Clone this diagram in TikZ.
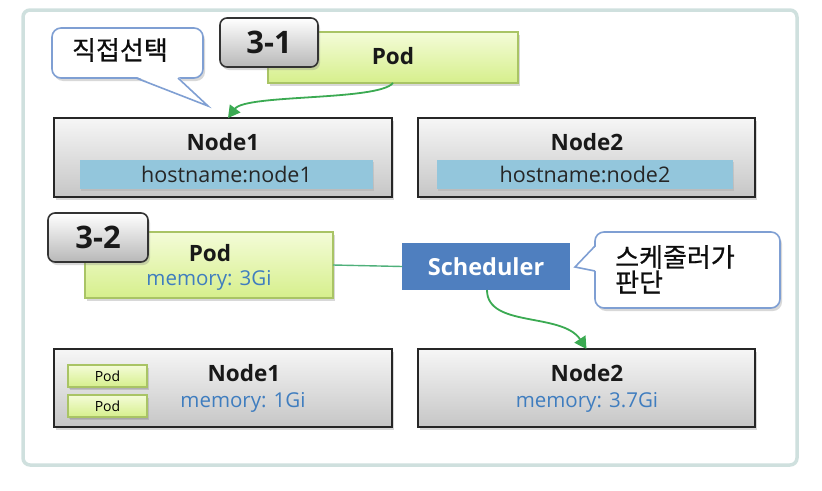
\documentclass[tikz,border=0pt]{standalone}
\usepackage{fontspec}
\setmainfont{Open Sans}
\newfontfamily\kr[FakeBold=0.6]{Noto Sans CJK KR}
\usetikzlibrary{arrows.meta,shadows,calc}
\definecolor{framec}{HTML}{CFE0DE}
\definecolor{calloutc}{HTML}{7F9FD3}
\definecolor{greenarr}{HTML}{3BAA52}
\definecolor{tealline}{HTML}{4FB07A}
\definecolor{barc}{HTML}{93C6DC}
\definecolor{memc}{HTML}{3F7DBF}
\definecolor{schedc}{HTML}{4F7FBF}
\definecolor{podtop}{HTML}{F4FCD8}
\definecolor{podbot}{HTML}{D6EF8C}
\definecolor{podedge}{HTML}{A9C465}
\definecolor{boxtop}{HTML}{F6F6F6}
\definecolor{boxbot}{HTML}{C6C6C6}
\tikzset{
  shd/.style={drop shadow={shadow xshift=2pt,shadow yshift=-3pt,opacity=0.3}},
  nodebox/.style={anchor=north west,inner sep=0,outer sep=0,draw=black!85,line width=1.6,
    top color=boxtop,bottom color=boxbot,shd},
  podbox/.style={anchor=north west,inner sep=0,outer sep=0,draw=podedge,line width=1.2,
    top color=podtop,bottom color=podbot,shd},
  tagbox/.style={anchor=north west,inner sep=0,outer sep=0,draw=black!80,line width=1.6,
    rounded corners=7,top color=white,bottom color=black!28,shd},
  barbox/.style={anchor=north west,inner sep=0,outer sep=0,fill=barc,
    drop shadow={shadow xshift=1pt,shadow yshift=-2pt,opacity=0.2}},
  callbox/.style={anchor=north west,inner sep=0,outer sep=0,draw=calloutc,line width=1.6,
    rounded corners=9,fill=white,shd},
  title/.style={font=\fontsize{22.5}{26}\selectfont\bfseries,text=black!90},
  sub/.style={font=\fontsize{21.5}{24}\selectfont,text=black!85},
  mem/.style={font=\fontsize{20.5}{24}\selectfont,text=memc},
  tagtxt/.style={font=\fontsize{31}{36}\selectfont\bfseries,text=black!90},
  krtxt/.style={font=\kr\fontsize{26}{28}\selectfont,text=black!95},
  garrow/.style={draw=greenarr,line width=1.8,-{Triangle[length=12,width=13]}},
}
\begin{document}
\begin{tikzpicture}[x=1pt,y=-1pt]
\useasboundingbox (0,0) rectangle (822,490);
% outer frame
\draw[framec,line width=3.5,rounded corners=7,fill=white] (23,10) rectangle (797,465);

% ---------- 3-1 ----------
\node[callbox,minimum width=151,minimum height=50] (callA) at (52,28) {};
\fill[white] (136,76.5) -- (208,106) -- (178,76.5) -- cycle;
\draw[calloutc,line width=1.6,line join=miter] (136,78) -- (208,106) -- (178,78);
\node[krtxt,inner sep=0] (txtA) at (120,50) {직접선택};

\node[podbox,minimum width=250,minimum height=51] (podA) at (268,32) {};
\node[title,inner sep=0] (podAt) at (393,56) {Pod};
\node[tagbox,minimum width=98,minimum height=49] (tagA) at (220,18) {};
\node[tagtxt,inner sep=0] (tagAt) at (tagA.center) {3-1};

\node[nodebox,minimum width=338,minimum height=79] (n1a) at (54,118) {};
\node[title,inner sep=0] (n1at) at (223,142) {Node1};
\node[barbox,minimum width=293,minimum height=29] (bar1) at (80,160) {};
\node[sub,inner sep=0] (bar1t) at (bar1.center) {hostname:node1};

\node[nodebox,minimum width=337,minimum height=79] (n2a) at (418,118) {};
\node[title,inner sep=0] (n2at) at (587,142) {Node2};
\node[barbox,minimum width=296,minimum height=29] (bar2) at (437,160) {};
\node[sub,inner sep=0] (bar2t) at (bar2.center) {hostname:node2};

\coordinate (n1in) at ($(n1a.north)+(5,0)$);
\draw[garrow] (podA.south) .. controls (378,101) and (246,94) .. (n1in);

% ---------- 3-2 ----------
\node[podbox,minimum width=248,minimum height=66] (podB) at (85,232) {};
\node[title,inner sep=0] (podBt) at (210,253) {Pod};
\node[mem,inner sep=0] (podBm) at (209,280) {memory: 3Gi};
\node[tagbox,minimum width=100,minimum height=49] (tagB) at (48,213) {};
\node[tagtxt,inner sep=0] (tagBt) at (tagB.center) {3-2};

\node[anchor=north west,inner sep=0,outer sep=0,fill=schedc,minimum width=168,minimum height=47,
  font=\fontsize{23.5}{26}\selectfont\bfseries,text=white] (sched) at (402,243) {Scheduler};
\draw[tealline,line width=1.4] (podB.east) -- (sched.west);

\node[callbox,minimum width=185,minimum height=76] (callB) at (595,232) {};
\fill[white] (596.5,246) -- (575,267) -- (596.5,271) -- cycle;
\draw[calloutc,line width=1.6,line join=miter] (595,246) -- (575,267) -- (595,271);
\node[krtxt,anchor=west,inner sep=0] (txtB1) at (615,257) {스케줄러가};
\node[krtxt,anchor=west,inner sep=0] (txtB2) at (615,282) {판단};

\node[nodebox,minimum width=338,minimum height=78] (n1b) at (54,349) {};
\node[title,inner sep=0] (n1bt) at (244,373) {Node1};
\node[mem,inner sep=0] (n1bm) at (243,402) {memory: 1Gi};
\node[podbox,minimum width=79,minimum height=22,drop shadow={shadow xshift=1pt,shadow yshift=-1.5pt,opacity=0.25}] (sp1) at (68,365) {};
\node[inner sep=0,font=\fontsize{14}{16}\selectfont] (sp1t) at (sp1.center) {Pod};
\node[podbox,minimum width=79,minimum height=22,drop shadow={shadow xshift=1pt,shadow yshift=-1.5pt,opacity=0.25}] (sp2) at (68,395) {};
\node[inner sep=0,font=\fontsize{14}{16}\selectfont] (sp2t) at (sp2.center) {Pod};

\node[nodebox,minimum width=337,minimum height=78] (n2b) at (418,349) {};
\node[title,inner sep=0] (n2bt) at (587,373) {Node2};
\node[mem,inner sep=0] (n2bm) at (587,402) {memory: 3.7Gi};

\coordinate (schout) at ($(sched.south)+(1,0)$);
\draw[garrow] (schout) .. controls (487,328) and (562,312) .. (n2b.north);
\end{tikzpicture}
\end{document}
